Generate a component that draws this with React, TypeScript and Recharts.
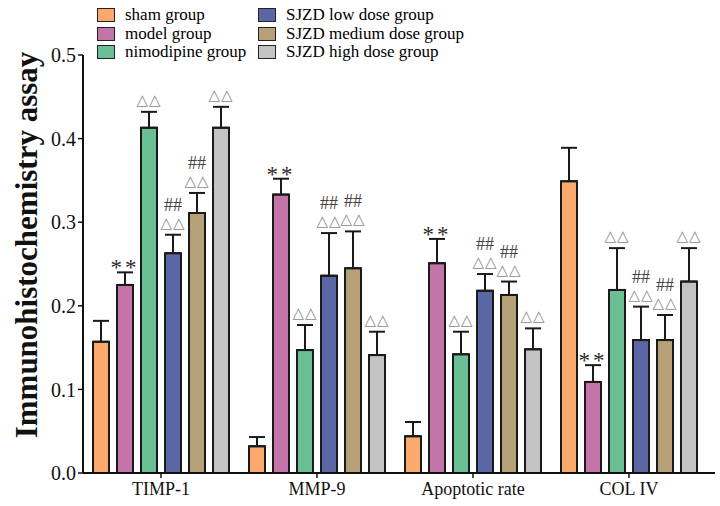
import React from "react";
import { BarChart, Bar, XAxis, YAxis, ErrorBar } from "recharts";

const categories = ["TIMP-1", "MMP-9", "Apoptotic rate", "COL IV"];

const sham = [0.157, 0.032, 0.044, 0.349];
const shamErr = [0.025, 0.011, 0.017, 0.04];
const model = [0.225, 0.333, 0.251, 0.109];
const modelErr = [0.015, 0.019, 0.029, 0.02];
const nimodipine = [0.413, 0.147, 0.142, 0.219];
const nimodipineErr = [0.019, 0.03, 0.027, 0.05];
const lowDose = [0.263, 0.236, 0.218, 0.159];
const lowDoseErr = [0.022, 0.051, 0.02, 0.04];
const mediumDose = [0.311, 0.245, 0.213, 0.159];
const mediumDoseErr = [0.024, 0.044, 0.016, 0.03];
const highDose = [0.413, 0.141, 0.148, 0.229];
const highDoseErr = [0.025, 0.028, 0.025, 0.04];

// significance marks above each bar
const modelMarks = ["**", "**", "**", "**"];
const nimodipineMarks = ["△△", "△△", "△△", "△△"];
const lowDoseMarks = ["##△△", "##△△", "##△△", "##△△"];
const mediumDoseMarks = ["##△△", "##△△", "##△△", "##△△"];
const highDoseMarks = ["△△", "△△", "△△", "△△"];

const yTicks = [0, 0.1, 0.2, 0.3, 0.4, 0.5];

const series = [
  { key: "sham", name: "sham group", color: "#FBA96C", values: sham, err: shamErr, marks: null },
  { key: "model", name: "model group", color: "#C274A8", values: model, err: modelErr, marks: modelMarks },
  { key: "nimodipine", name: "nimodipine group", color: "#6CBF94", values: nimodipine, err: nimodipineErr, marks: nimodipineMarks },
  { key: "low", name: "SJZD low dose group", color: "#5B66A4", values: lowDose, err: lowDoseErr, marks: lowDoseMarks },
  { key: "medium", name: "SJZD medium dose group", color: "#B5A077", values: mediumDose, err: mediumDoseErr, marks: mediumDoseMarks },
  { key: "high", name: "SJZD high dose group", color: "#C3C3C3", values: highDose, err: highDoseErr, marks: highDoseMarks },
];

const data = categories.map((c, i) => {
  const row: any = { name: c };
  series.forEach((s) => {
    row[s.key] = s.values[i];
    row[s.key + "Err"] = [0, s.err[i]];
  });
  return row;
});

const serif = "'Liberation Serif', 'Times New Roman', serif";

function makeMarkLabel(s: any) {
  return (props: any) => {
    const { x, y, width, height, index, value } = props;
    if (!s.marks || value == null) return null;
    const mark: string = s.marks[index];
    const pxPerUnit = height / value;
    const errTop = y - s.err[index] * pxPerUnit;
    const cx = x + width / 2;
    if (mark === "**") {
      return (
        <text x={cx} y={errTop + 3} textAnchor="middle" fontFamily={serif} fontSize={23} fill="#2a2a2a" letterSpacing={3}>
          **
        </text>
      );
    }
    const hasHash = mark.startsWith("##");
    return (
      <g>
        {hasHash && (
          <text x={cx} y={errTop - 24} textAnchor="middle" fontFamily={serif} fontSize={18} fill="#444">
            ##
          </text>
        )}
        <text
          x={cx}
          y={errTop - 7}
          textAnchor="middle"
          fontFamily="'DejaVu Sans', sans-serif"
          fontSize={15}
          fill="#8a8a8a"
          letterSpacing={1}
        >
          △△
        </text>
      </g>
    );
  };
}

function Legend() {
  const cols = [series.slice(0, 3), series.slice(3)];
  const lefts = [97, 258];
  return (
    <>
      {cols.map((col, ci) =>
        col.map((s, ri) => (
          <div
            key={s.key}
            style={{
              position: "absolute",
              left: lefts[ci],
              top: 6 + ri * 18.5,
              display: "flex",
              alignItems: "center",
              fontFamily: serif,
              fontSize: 17,
              lineHeight: "18px",
              whiteSpace: "nowrap",
            }}
          >
            <span
              style={{
                display: "inline-block",
                width: 16,
                height: 12,
                background: s.color,
                border: "1.5px solid #222",
                marginRight: 10,
              }}
            />
            {s.name}
          </div>
        ))
      )}
    </>
  );
}

export default function App() {
  return (
    <div style={{ position: "fixed", left: 0, top: 0, width: 720, height: 506, background: "#fff" }}>
      <BarChart
        width={720}
        height={506}
        data={data}
        margin={{ top: 55, right: 5, bottom: 3, left: 0 }}
        barSize={16}
        barGap={8}
      >
        <XAxis
          dataKey="name"
          height={30}
          padding={{ left: 0, right: 8 }}
          axisLine={{ stroke: "#111", strokeWidth: 2 }}
          tickLine={{ stroke: "#111", strokeWidth: 1.5 }}
          tickSize={5}
          tick={{ fill: "#111", fontSize: 18, fontFamily: serif, dy: 2 }}
        />
        <YAxis
          width={83}
          domain={[0, 0.5]}
          ticks={yTicks}
          tickFormatter={(v: number) => v.toFixed(1)}
          axisLine={{ stroke: "#111", strokeWidth: 2 }}
          tickLine={{ stroke: "#111", strokeWidth: 1.5 }}
          tickSize={5}
          tick={{ fill: "#111", fontSize: 20, fontFamily: serif }}
          label={{
            content: () => (
              <text
                x={26}
                y={245}
                transform="rotate(-90 26 245)"
                textAnchor="middle"
                dominantBaseline="central"
                fontFamily={serif}
                fontWeight="bold"
                fontSize={31}
                fill="#111"
              >
                Immunohistochemistry assay
              </text>
            ),
          }}
        />
        {series.map((s) => (
          <Bar
            key={s.key}
            dataKey={s.key}
            name={s.name}
            fill={s.color}
            stroke="#1a1a1a"
            strokeWidth={2}
            isAnimationActive={false}
            label={makeMarkLabel(s)}
          >
            <ErrorBar dataKey={s.key + "Err"} direction="y" width={8} stroke="#1a1a1a" strokeWidth={2} />
          </Bar>
        ))}
      </BarChart>
      <Legend />
    </div>
  );
}
